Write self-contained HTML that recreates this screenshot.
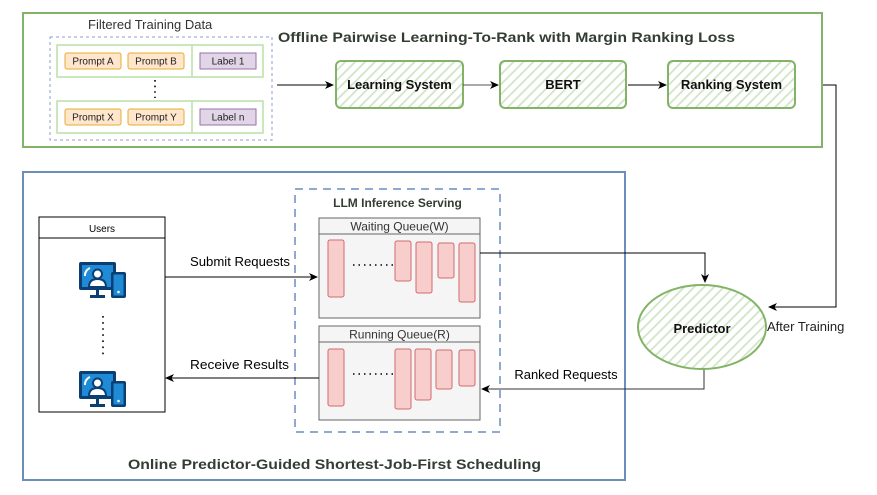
<!DOCTYPE html>
<html><head><meta charset="utf-8"><style>
html,body{margin:0;padding:0;background:#fff;}
svg{display:block;font-family:"Liberation Sans",Arial,sans-serif;}
</style></head><body>
<svg width="877" height="495" viewBox="0 0 877 495" xmlns="http://www.w3.org/2000/svg">
<defs>
<pattern id="hatch" patternUnits="userSpaceOnUse" width="7" height="7" patternTransform="rotate(45)">
<rect width="7" height="7" fill="#fff"/>
<line x1="0" y1="0" x2="0" y2="7" stroke="#cfe5c6" stroke-width="3.5"/>
</pattern>
<marker id="ar" markerWidth="10" markerHeight="10" refX="8" refY="4" orient="auto" markerUnits="userSpaceOnUse">
<path d="M0,0 L9,4 L0,8 L2.5,4 Z" fill="#000"/>
</marker>
<g id="user">
<rect x="0" y="0" width="37" height="28" rx="2" fill="#0b3f73"/>
<rect x="3" y="3" width="31" height="22" fill="#1f8ad6"/>
<path d="M6,14 A8,8 0 0 1 11,6" stroke="#fff" stroke-width="2" fill="none"/>
<circle cx="18.5" cy="12" r="4.5" fill="#fff" stroke="#0b3f73" stroke-width="2"/>
<path d="M10,25 Q10,17 18.5,17 Q27,17 27,25 Z" fill="#fff" stroke="#0b3f73" stroke-width="2"/>
<rect x="17" y="28" width="3" height="5" fill="#0b3f73"/>
<rect x="11" y="33" width="15" height="3" fill="#0b3f73"/>
<rect x="32" y="10" width="15" height="26" rx="2" fill="#0b3f73"/>
<rect x="34.5" y="12.5" width="10" height="21" fill="#1f8ad6"/>
<circle cx="39.5" cy="30" r="1.3" fill="#fff"/>
</g>
</defs>

<rect x="23" y="13" width="799" height="134" fill="none" stroke="#82b366" stroke-width="2"/>
<text x="88" y="29" font-size="13" fill="#333">Filtered Training Data</text>
<rect x="50" y="37" width="222" height="103" fill="none" stroke="#8c9fd0" stroke-width="1" stroke-dasharray="3,3"/>
<rect x="57" y="45" width="206" height="32" fill="#fff" stroke="#b9e0a5" stroke-width="1.5"/>
<line x1="192" y1="45" x2="192" y2="77" stroke="#b9e0a5" stroke-width="1.5"/>
<rect x="57" y="101" width="206" height="32" fill="#fff" stroke="#b9e0a5" stroke-width="1.5"/>
<line x1="192" y1="101" x2="192" y2="133" stroke="#b9e0a5" stroke-width="1.5"/>
<g font-size="10" text-anchor="middle" fill="#222">
<rect x="65" y="53" width="56" height="16" rx="2" fill="#ffe6cc" stroke="#e5ad30"/>
<text x="93" y="64.5">Prompt A</text>
<rect x="128" y="53" width="56" height="16" rx="2" fill="#ffe6cc" stroke="#e5ad30"/>
<text x="156" y="64.5">Prompt B</text>
<rect x="200" y="53" width="56" height="16" fill="#e1d5e7" stroke="#9673a6"/>
<text x="228" y="64.5">Label 1</text>
<rect x="65" y="109" width="56" height="16" rx="2" fill="#ffe6cc" stroke="#e5ad30"/>
<text x="93" y="120.5">Prompt X</text>
<rect x="128" y="109" width="56" height="16" rx="2" fill="#ffe6cc" stroke="#e5ad30"/>
<text x="156" y="120.5">Prompt Y</text>
<rect x="200" y="109" width="56" height="16" fill="#e1d5e7" stroke="#9673a6"/>
<text x="228" y="120.5">Label n</text>
</g>
<line x1="155" y1="80" x2="155" y2="98" stroke="#000" stroke-width="1.6" stroke-dasharray="1.6,4"/>
<text x="278" y="42" font-size="14" font-weight="bold" fill="#333d33" textLength="457" lengthAdjust="spacingAndGlyphs">Offline Pairwise Learning-To-Rank with Margin Ranking Loss</text>

<line x1="277" y1="85" x2="333" y2="85" stroke="#000" marker-end="url(#ar)"/>
<rect x="336" y="61" width="127" height="47" rx="5" fill="url(#hatch)" stroke="#82b366" stroke-width="2"/>
<text x="399.5" y="89" font-size="13" font-weight="bold" text-anchor="middle" fill="#111">Learning System</text>
<line x1="463" y1="85" x2="498" y2="85" stroke="#555" marker-end="url(#ar)"/>
<rect x="500" y="61" width="126" height="47" rx="5" fill="url(#hatch)" stroke="#82b366" stroke-width="2"/>
<text x="563" y="89" font-size="13" font-weight="bold" text-anchor="middle" fill="#111">BERT</text>
<line x1="628" y1="85" x2="666" y2="85" stroke="#000" marker-end="url(#ar)"/>
<rect x="668" y="61" width="127" height="47" rx="5" fill="url(#hatch)" stroke="#82b366" stroke-width="2"/>
<text x="731.5" y="89" font-size="13" font-weight="bold" text-anchor="middle" fill="#111">Ranking System</text>
<polyline points="823,85 836,85 836,307 769,307" fill="none" stroke="#000" marker-end="url(#ar)"/>

<rect x="23" y="172" width="602" height="308" fill="none" stroke="#6c8ebf" stroke-width="2"/>
<text x="128" y="469" font-size="14" font-weight="bold" fill="#333d33" textLength="413" lengthAdjust="spacingAndGlyphs">Online Predictor-Guided Shortest-Job-First Scheduling</text>

<rect x="39" y="217" width="126" height="195" fill="#fff" stroke="#000" stroke-width="1"/>
<line x1="39" y1="238" x2="165" y2="238" stroke="#000"/>
<text x="102" y="232" font-size="10" text-anchor="middle" fill="#000">Users</text>
<use href="#user" x="79" y="262"/>
<use href="#user" x="79" y="371"/>
<line x1="103" y1="316" x2="103" y2="356" stroke="#000" stroke-width="1.6" stroke-dasharray="1.6,4.5"/>

<rect x="295" y="189" width="205" height="243" fill="none" stroke="#6c8ebf" stroke-width="1.5" stroke-dasharray="8,6"/>
<text x="397.5" y="207" font-size="12" font-weight="bold" text-anchor="middle" fill="#333d33">LLM Inference Serving</text>
<rect x="319" y="218" width="161" height="100" fill="#f5f5f5" stroke="#666"/>
<line x1="319" y1="234" x2="480" y2="234" stroke="#666"/>
<text x="399.5" y="230.5" font-size="12" text-anchor="middle" fill="#333">Waiting Queue(W)</text>
<rect x="319" y="326" width="161" height="94" fill="#f5f5f5" stroke="#666"/>
<line x1="319" y1="342" x2="480" y2="342" stroke="#666"/>
<text x="399.5" y="338.5" font-size="12" text-anchor="middle" fill="#333">Running Queue(R)</text>
<g fill="#f8cecc" stroke="#d06b6b" stroke-width="1">
<rect x="328" y="240" width="16" height="57" rx="2"/>
<rect x="395" y="241" width="16" height="40" rx="2"/>
<rect x="416" y="242" width="16" height="51" rx="2"/>
<rect x="438" y="243" width="16" height="35" rx="2"/>
<rect x="459" y="243" width="16" height="59" rx="2"/>
<rect x="328" y="349" width="16" height="57" rx="2"/>
<rect x="395" y="349" width="16" height="60" rx="2"/>
<rect x="415" y="349" width="16" height="51" rx="2"/>
<rect x="436" y="350" width="16" height="39" rx="2"/>
<rect x="459" y="350" width="16" height="36" rx="2"/>
</g>
<line x1="353" y1="265" x2="393" y2="265" stroke="#000" stroke-width="1.5" stroke-dasharray="1.5,4"/>
<line x1="353" y1="374" x2="393" y2="374" stroke="#000" stroke-width="1.5" stroke-dasharray="1.5,4"/>

<line x1="165" y1="277" x2="317" y2="277" stroke="#000" marker-end="url(#ar)"/>
<text x="190" y="266" font-size="13" fill="#000" textLength="100" lengthAdjust="spacingAndGlyphs">Submit Requests</text>
<line x1="319" y1="378" x2="166" y2="378" stroke="#000" marker-end="url(#ar)"/>
<text x="190" y="369" font-size="13" fill="#000" textLength="99" lengthAdjust="spacingAndGlyphs">Receive Results</text>
<polyline points="480,253 705,253 705,282" fill="none" stroke="#000" marker-end="url(#ar)"/>
<polyline points="704,369 704,389 482,389" fill="none" stroke="#333" marker-end="url(#ar)"/>
<text x="566" y="379" font-size="13" text-anchor="middle" fill="#000">Ranked Requests</text>

<ellipse cx="702" cy="327" rx="64" ry="42" fill="url(#hatch)" stroke="#82b366" stroke-width="2"/>
<text x="702" y="333" font-size="13" font-weight="bold" text-anchor="middle" fill="#111">Predictor</text>
<text x="767" y="331" font-size="13" fill="#222">After Training</text>
</svg>
</body></html>
